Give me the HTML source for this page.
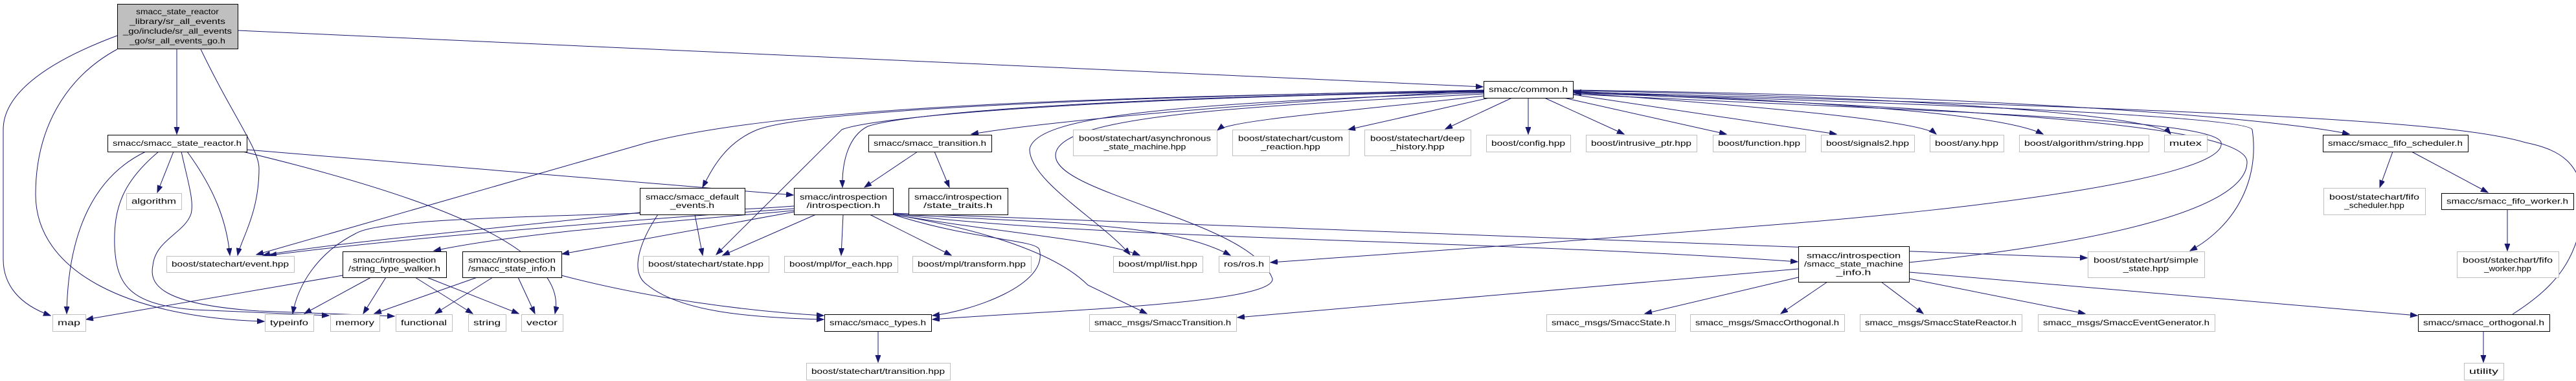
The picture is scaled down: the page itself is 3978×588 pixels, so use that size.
<!DOCTYPE html>
<html><head><meta charset="utf-8">
<style>
html,body{margin:0;padding:0;background:#fff;}
svg{display:block;}
text{font-family:"Liberation Sans","DejaVu Sans",sans-serif;font-size:12px;fill:#000;}
</style></head>
<body>
<svg id="g" width="3978" height="588" viewBox="0 0 3978 588" xmlns="http://www.w3.org/2000/svg">
<defs>
<marker id="a" markerUnits="userSpaceOnUse" markerWidth="12" markerHeight="10" refX="11" refY="4" orient="auto">
<path d="M0,0 L11,4 L0,8 Z" fill="#191970" stroke="#191970"/>
</marker>
</defs>
<g id="edges" fill="none" stroke="#191970" stroke-width="1" marker-end="url(#a)">
<path d="M181,55 C60,100 5,150 5,200 L5,400 C5,440 30,470 78,487"/>
<path d="M181,76 C100,120 55,200 55,300 C55,420 200,490 408,496"/>
<path d="M273,76 L273,207"/>
<path d="M310,76 C360,180 400,230 400,260 C400,330 372,370 367,394"/>
<path d="M367,47 L2290,134"/>
<path d="M225,234 C150,270 105,350 103,484"/>
<path d="M245,234 C190,280 175,320 177,380 C180,440 200,470 300,478 L508,487"/>
<path d="M280,234 C290,280 300,310 295,330 C285,360 240,370 236,410 C230,440 250,470 400,480 L609,488"/>
<path d="M268,234 L243,297"/>
<path d="M289,234 C330,290 350,340 355,394"/>
<path d="M375,234 C650,300 880,380 857,484"/>
<path d="M381,231 L1225,301"/>
<path d="M2291,148 C2100,170 1900,185 1880,201"/>
<path d="M2300,151 L2082,200"/>
<path d="M2335,151 L2232,199"/>
<path d="M2360,151 L2360,207"/>
<path d="M2385,151 L2508,207"/>
<path d="M2415,151 L2666,207"/>
<path d="M2429,146 L2836,207"/>
<path d="M2429,143 C2800,170 2970,190 2990,207"/>
<path d="M2429,141 C2900,160 3100,180 3155,207"/>
<path d="M2429,140 C3000,150 3330,180 3352,207"/>
<path d="M2429,139 C3200,150 3550,190 3628,207"/>
<path d="M2291,140 C1900,160 1600,190 1500,207"/>
<path d="M2291,139 C1700,150 1250,170 1170,200 C1120,220 1100,260 1085,289"/>
<path d="M2291,141 C1700,150 1400,175 1340,195 C1310,210 1300,250 1301,289"/>
<path d="M2291,140 C1600,150 1200,170 1000,220 L396,393"/>
<path d="M2291,142 C1700,150 1350,180 1300,200 L1106,393"/>
<path d="M2291,143 C1800,160 1600,180 1590,230 C1590,280 1700,340 1745,393"/>
<path d="M2291,145 C1900,165 1630,180 1630,240 C1630,300 1930,340 1965,430 C1970,470 1600,480 1440,493"/>
<path d="M2429,145 C2900,170 3420,180 3430,220 C3440,270 3100,320 2700,350 C2400,375 2100,395 1962,405"/>
<path d="M2429,143 C3000,160 3470,180 3478,200 C3490,280 3450,350 3382,387"/>
<path d="M3880,485 C3950,440 3980,400 3990,320 C3990,250 3950,230 3900,220 C3800,190 3500,170 2431,142"/>
<path d="M2948,405 C3200,380 3470,330 3470,250 C3470,195 3100,170 2431,143"/>
<path d="M1226,322 C900,345 600,370 416,394"/>
<path d="M1260,331 L1116,394"/>
<path d="M1302,331 L1299,394"/>
<path d="M1343,331 L1469,394"/>
<path d="M1379,331 C1550,360 1700,370 1760,394"/>
<path d="M1379,330 C1600,345 1800,340 1900,394"/>
<path d="M1379,331 C1500,370 1600,370 1605,385 C1620,440 1500,480 1440,487"/>
<path d="M1379,331 C1550,360 1640,400 1680,440 L1771,484"/>
<path d="M1226,325 C1000,345 800,360 670,387"/>
<path d="M1226,327 L868,392"/>
<path d="M1226,318 C1000,335 600,330 550,360 C490,390 460,440 452,484"/>
<path d="M1379,330 C1700,370 2300,370 2776,404"/>
<path d="M1379,329 C1800,350 2400,370 3223,398"/>
<path d="M2777,415 L1911,490"/>
<path d="M2777,428 L2540,484"/>
<path d="M2822,435 L2750,484"/>
<path d="M2905,435 L2970,484"/>
<path d="M2948,430 L3220,484"/>
<path d="M2948,420 L3733,487"/>
<path d="M988,328 C800,350 550,370 406,394"/>
<path d="M1073,331 L1085,394"/>
<path d="M1016,331 C990,370 970,420 1000,440 C1050,480 1150,490 1272,493"/>
<path d="M867,425 C1000,460 1150,480 1272,487"/>
<path d="M737,428 L578,484"/>
<path d="M761,428 L672,484"/>
<path d="M800,428 L826,484"/>
<path d="M529,425 L133,493"/>
<path d="M573,428 L470,484"/>
<path d="M596,428 L561,484"/>
<path d="M641,428 L730,484"/>
<path d="M659,428 L801,484"/>
<path d="M1417,234 L1335,289"/>
<path d="M1443,234 L1466,289"/>
<path d="M1356,511 L1356,559"/>
<path d="M3695,234 L3675,289"/>
<path d="M3724,234 L3842,297"/>
<path d="M3872,323 L3872,387"/>
<path d="M3835,511 L3835,559"/>
</g>
<g id="nodes"></g>
</svg>
<script>
var N=[
[181,6,186,69,2,["smacc_state_reactor","_library/sr_all_events","_go/include/sr_all_events","_go/sr_all_events_go.h"]],
[166,208,215,26,1,["smacc/smacc_state_reactor.h"]],
[195,298,85,25,0,["algorithm"]],
[257,395,197,25,0,["boost/statechart/event.hpp"]],
[529,388,160,40,1,["smacc/introspection","/string_type_walker.h"]],
[714,388,153,40,1,["smacc/introspection","/smacc_state_info.h"]],
[81,485,51,26,0,["map"]],
[409,485,75,26,0,["typeinfo"]],
[510,485,76,26,0,["memory"]],
[611,485,87,26,0,["functional"]],
[723,485,58,26,0,["string"]],
[805,485,64,26,0,["vector"]],
[988,290,162,41,1,["smacc/smacc_default","_events.h"]],
[1226,290,153,41,1,["smacc/introspection","/introspection.h"]],
[1403,290,153,41,1,["smacc/introspection","/state_traits.h"]],
[1341,208,190,26,1,["smacc/smacc_transition.h"]],
[1657,200,222,40,0,["boost/statechart/asynchronous","_state_machine.hpp"]],
[1903,200,180,40,0,["boost/statechart/custom","_reaction.hpp"]],
[993,395,194,25,0,["boost/statechart/state.hpp"]],
[1211,395,175,25,0,["boost/mpl/for_each.hpp"]],
[1409,395,183,25,0,["boost/mpl/transform.hpp"]],
[1719,395,138,25,0,["boost/mpl/list.hpp"]],
[1882,395,78,25,0,["ros/ros.h"]],
[1273,485,165,26,1,["smacc/smacc_types.h"]],
[1682,485,227,26,0,["smacc_msgs/SmaccTransition.h"]],
[1245,560,222,26,0,["boost/statechart/transition.hpp"]],
[2291,125,138,26,1,["smacc/common.h"]],
[2107,200,164,40,0,["boost/statechart/deep","_history.hpp"]],
[2295,208,130,26,0,["boost/config.hpp"]],
[2449,208,171,26,0,["boost/intrusive_ptr.hpp"]],
[2645,208,143,26,0,["boost/function.hpp"]],
[2812,208,144,26,0,["boost/signals2.hpp"]],
[2980,208,114,26,0,["boost/any.hpp"]],
[3118,208,200,26,0,["boost/algorithm/string.hpp"]],
[3342,208,66,26,0,["mutex"]],
[3587,208,224,26,1,["smacc/smacc_fifo_scheduler.h"]],
[3588,290,157,41,0,["boost/statechart/fifo","_scheduler.hpp"]],
[3770,298,204,25,1,["smacc/smacc_fifo_worker.h"]],
[2777,380,171,55,1,["smacc/introspection","/smacc_state_machine","_info.h"]],
[3224,388,180,40,0,["boost/statechart/simple","_state.hpp"]],
[3794,388,157,40,0,["boost/statechart/fifo","_worker.hpp"]],
[2388,485,199,26,0,["smacc_msgs/SmaccState.h"]],
[2610,485,238,26,0,["smacc_msgs/SmaccOrthogonal.h"]],
[2872,485,250,26,0,["smacc_msgs/SmaccStateReactor.h"]],
[3147,485,273,26,0,["smacc_msgs/SmaccEventGenerator.h"]],
[3734,485,203,26,1,["smacc/smacc_orthogonal.h"]],
[3805,560,61,26,0,["utility"]]
];
var g=document.getElementById('nodes'),ns='http://www.w3.org/2000/svg',h='';
N.forEach(function(n){
 var x=n[0],y=n[1],w=n[2],hh=n[3],t=n[4],L=n[5];
 var fill=t==2?'#bfbfbf':'#fff',st=t==0?'#bfbfbf':'#000';
 h+='<rect x="'+(x+0.5)+'" y="'+(y+0.5)+'" width="'+w+'" height="'+hh+'" fill="'+fill+'" stroke="'+st+'" stroke-width="1"/>';
 var mx=0;L.forEach(function(s){if(s.length>mx)mx=s.length;});
 var avail=w-(L.length>1?18:16);var pc=avail/mx;
 var lh=(L.length==4)?15:13;
 var y0=y+hh/2-(L.length-1)*lh/2+4;
 L.forEach(function(s,i){
  var tl=Math.min(avail,s.length*pc);
  h+='<text x="'+(x+w/2)+'" y="'+(y0+i*lh)+'" text-anchor="middle" textLength="'+tl.toFixed(1)+'" lengthAdjust="spacingAndGlyphs">'+s+'</text>';
 });
});
g.innerHTML=h;
</script>
</body></html>
